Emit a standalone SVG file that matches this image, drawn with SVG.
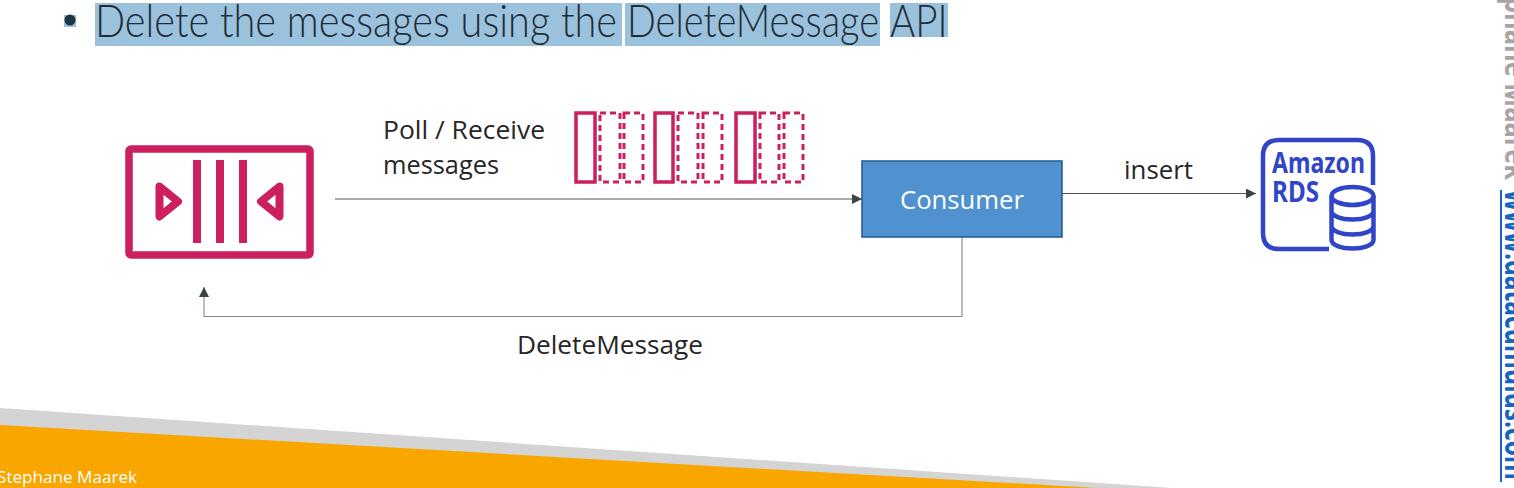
<svg xmlns="http://www.w3.org/2000/svg" width="1514" height="488" viewBox="0 0 1514 488">
<style>
.t{font-family:"Open Sans","Noto Sans","Liberation Sans",sans-serif;font-size:26px;fill:#262626}
.h{font-family:Lato,"Liberation Sans",sans-serif;font-weight:300;font-size:46px;fill:#1f2d38}
.p{fill:none;stroke:#cc1f5f}
.dash{stroke-width:3;stroke-dasharray:6 4}
.b{fill:none;stroke:#3045c8;stroke-width:4.5}
.c{fill:none;stroke:#555;stroke-width:1.1}
.g{fill:none;stroke:#888;stroke-width:1.1}
</style>
<defs>
<marker id="ah" markerUnits="userSpaceOnUse" markerWidth="11" markerHeight="11" refX="10" refY="5" orient="auto"><path d="M0 0L10 5L0 10Z" fill="#3a4444"/></marker>
</defs>
<rect width="1514" height="488" fill="#fff"/>
<g id="title">
<rect x="64" y="15" width="12" height="12" fill="#9bc2dc"/>
<circle cx="70" cy="20" r="5.500" fill="#1f3442"/>
<rect x="95" y="3" width="527" height="43" fill="#9bc2dc"/>
<rect x="625" y="3" width="255" height="43" fill="#9bc2dc"/>
<rect x="890" y="3" width="58" height="34" fill="#9bc2dc"/>
<text class="h" transform="translate(95 37) scale(.9 1)" textLength="580" lengthAdjust="spacingAndGlyphs">Delete the messages using the</text>
<text class="h" transform="translate(627 37) scale(.9 1)" textLength="280" lengthAdjust="spacingAndGlyphs">DeleteMessage</text>
<text class="h" transform="translate(890 37) scale(.9 1)" textLength="64" lengthAdjust="spacingAndGlyphs">API</text>
</g>
<g id="footer">
<polygon points="0,408 1172,488 0,488" fill="#d4d4d4"/>
<polygon points="0,425 1097,488 0,488" fill="#f9a600"/>
<text x="-3" y="483" font-family="'Open Sans','Liberation Sans',sans-serif" font-size="17" fill="#fff" textLength="140" lengthAdjust="spacingAndGlyphs">Stephane Maarek</text>
</g>
<g id="side-text" font-family="'Open Sans','Liberation Sans',sans-serif" font-weight="700" font-size="32">
<text transform="translate(1505 180) rotate(90)" x="-183" fill="#a6a6a6" textLength="183" lengthAdjust="spacingAndGlyphs">phane Maarek</text>
<text transform="translate(1505 190) rotate(90)" fill="#1565c0" textLength="290" lengthAdjust="spacingAndGlyphs">www.datacumulus.com</text>
<line x1="1501" y1="190" x2="1501" y2="482" stroke="#1565c0" stroke-width="2"/>
</g>
<g id="queue">
<rect class="p" x="129" y="149" width="181" height="106" rx="2" stroke-width="7.500"/>
<path d="M197 160V243M220 160V243M243 160V243" class="p" stroke-width="8"/>
<path d="M159.500 186.500L178 201.500L159.500 216.500Z" class="p" stroke-width="8" stroke-linejoin="round"/>
<path d="M279.500 186.500L261 201.500L279.500 216.500Z" class="p" stroke-width="8" stroke-linejoin="round"/>
</g>
<g id="messages">
<rect class="p" x="576" y="113" width="19" height="69" stroke-width="3.500"/>
<rect class="p dash" x="600" y="113" width="20" height="69"/>
<rect class="p dash" x="624" y="113" width="19" height="69"/>
<rect class="p" x="655" y="113" width="18" height="69" stroke-width="3.500"/>
<rect class="p dash" x="678" y="113" width="20" height="69"/>
<rect class="p dash" x="703" y="113" width="19" height="69"/>
<rect class="p" x="736" y="113" width="19" height="69" stroke-width="3.500"/>
<rect class="p dash" x="760" y="113" width="19" height="69"/>
<rect class="p dash" x="784" y="113" width="19" height="69"/>
</g>
<g id="connectors">
<line class="c" x1="335" y1="199" x2="862" y2="199" marker-end="url(#ah)"/>
<line class="c" x1="1062" y1="193.500" x2="1256" y2="193.500" marker-end="url(#ah)"/>
<path class="g" d="M962 237V316.500H204V287" marker-end="url(#ah)"/>
</g>
<g id="consumer">
<rect x="862" y="161" width="200" height="76" fill="#5092d0" stroke="#1c5a8c" stroke-width="1.500"/>
<text x="962" y="209" text-anchor="middle" font-family="'Open Sans','Liberation Sans',sans-serif" font-size="26" fill="#fff" textLength="124" lengthAdjust="spacingAndGlyphs">Consumer</text>
</g>
<g id="labels">
<text class="t" x="383" y="139" textLength="162" lengthAdjust="spacingAndGlyphs">Poll / Receive</text>
<text class="t" x="383" y="174" textLength="116" lengthAdjust="spacingAndGlyphs">messages</text>
<text class="t" x="1124" y="179" textLength="69" lengthAdjust="spacingAndGlyphs">insert</text>
<text class="t" x="517" y="354" textLength="186" lengthAdjust="spacingAndGlyphs">DeleteMessage</text>
</g>
<g id="rds">
<path class="b" d="M1329 249H1279Q1263 249 1263 233V156Q1263 140 1279 140H1357Q1373 140 1373 156V185"/>
<text x="1272" y="173" font-family="'Noto Sans','Open Sans',sans-serif" font-weight="700" font-size="28" fill="#3045c8" textLength="93" lengthAdjust="spacingAndGlyphs">Amazon</text>
<text x="1272" y="202" font-family="'Noto Sans','Open Sans',sans-serif" font-weight="700" font-size="28" fill="#3045c8" textLength="47" lengthAdjust="spacingAndGlyphs">RDS</text>
<ellipse class="b" cx="1352.500" cy="196" rx="21" ry="9" stroke-width="4"/>
<path class="b" stroke-width="4" d="M1331.500 196V240C1331.500 245 1341 248.500 1352.500 248.500C1364 248.500 1373.500 245 1373.500 240V196M1331.500 211C1331.500 216 1341 219.500 1352.500 219.500C1364 219.500 1373.500 216 1373.500 211M1331.500 226C1331.500 231 1341 234.500 1352.500 234.500C1364 234.500 1373.500 231 1373.500 226"/>
</g>
</svg>
